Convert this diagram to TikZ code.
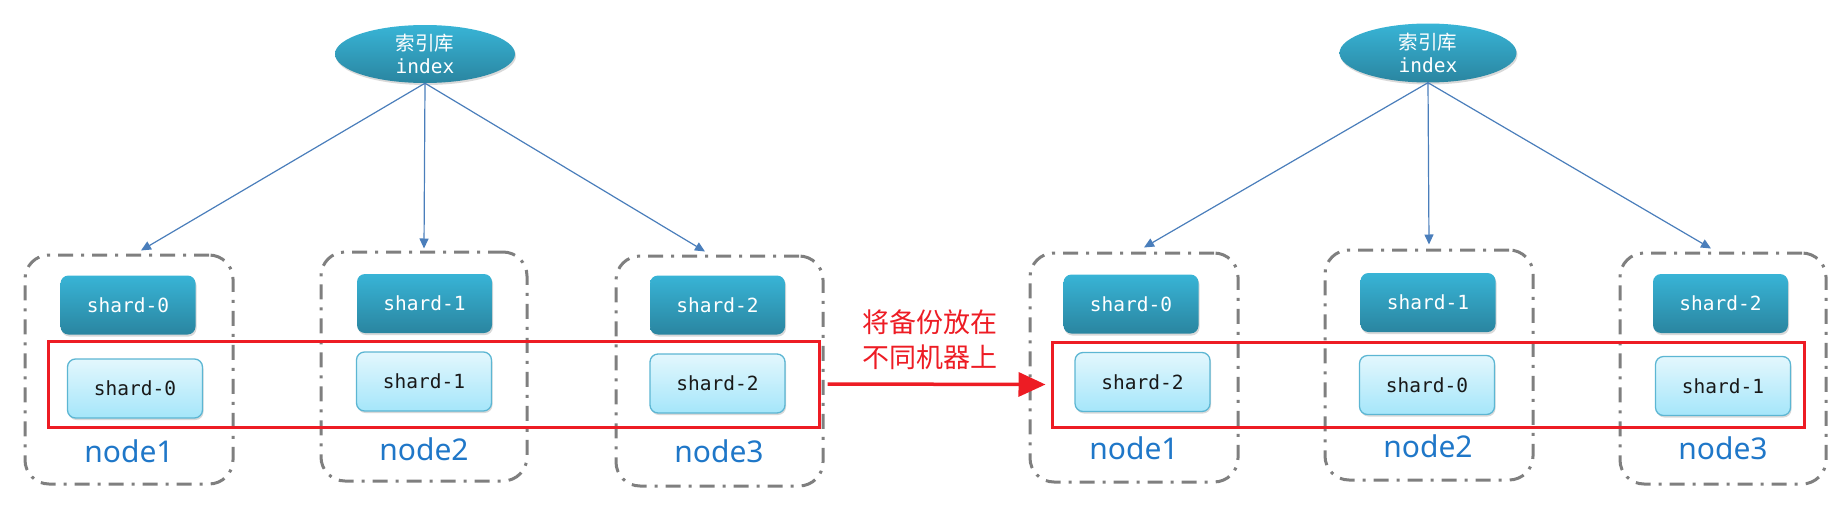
\documentclass[tikz,border=0pt]{standalone}
\usepackage{fontspec}
\newfontfamily\cjkf{Noto Sans CJK SC}
\newfontfamily\monof{DejaVu Sans Mono}
\newfontfamily\labf{Noto Sans}
\usetikzlibrary{shapes.geometric,arrows.meta,shadows}
\definecolor{darktop}{HTML}{38B4D6}
\definecolor{darkbot}{HTML}{2A85A0}
\definecolor{lighttop}{HTML}{E3F7FD}
\definecolor{lightbot}{HTML}{A5E6FA}
\definecolor{lightedge}{HTML}{5CB6D3}
\definecolor{linkblue}{HTML}{4A7EBB}
\definecolor{boxgray}{HTML}{7F7F7F}
\definecolor{redc}{HTML}{ED1C24}
\definecolor{labblue}{HTML}{1F77C8}
\begin{document}
\begin{tikzpicture}[x=1pt,y=-1pt,
  softshadow/.style={general shadow={fill=black,opacity=0.15,shadow xshift=1pt,shadow yshift=-2pt}},
  idx/.style={ellipse, top color=darktop, bottom color=darkbot, inner sep=0pt,
    minimum width=180pt, minimum height=58pt, text=white, align=center,
    font=\fontsize{19.5}{23}\selectfont, softshadow},
  dbox/.style={draw=boxgray, line width=3pt, dash pattern=on 15pt off 8pt on 3pt off 8pt,
    rounded corners=24pt, inner sep=0pt},
  redbox/.style={draw=redc, line width=3pt, inner sep=0pt},
  darkshard/.style={rectangle, rounded corners=8pt, top color=darktop, bottom color=darkbot,
    minimum width=135pt, minimum height=59pt, inner sep=0pt, text=white,
    font=\monof\fontsize{19.5}{23}\selectfont, softshadow},
  lightshard/.style={rectangle, rounded corners=8pt, top color=lighttop, bottom color=lightbot,
    draw=lightedge, line width=1.3pt, minimum width=135pt, minimum height=59pt, inner sep=0pt,
    text=black!90, font=\monof\fontsize{19.5}{23}\selectfont, softshadow},
  lab/.style={text=labblue, font=\labf\fontsize{30}{33}\selectfont, inner sep=0pt, anchor=base},
  link/.style={draw=linkblue, line width=1.2pt, -{Triangle[length=10pt,width=9pt]}},
  redarr/.style={draw=redc, line width=3.5pt, -{Triangle[length=27pt,width=24pt]}},
  redtxt/.style={text=redc, align=center, font=\cjkf\fontsize{27}{35}\selectfont, inner sep=0pt}
]
\useasboundingbox (0,0) rectangle (1839,509);

% dashed machine boxes
\node[dbox, minimum width=208pt, minimum height=229pt] (n1) at (129,369.5) {};
\node[dbox, minimum width=206pt, minimum height=229pt] (n2) at (424,366.5) {};
\node[dbox, minimum width=207pt, minimum height=230pt] (n3) at (719.5,371) {};
\node[dbox, minimum width=208pt, minimum height=229pt] (m1) at (1134,367.5) {};
\node[dbox, minimum width=208pt, minimum height=230pt] (m2) at (1429,365) {};
\node[dbox, minimum width=206pt, minimum height=231pt] (m3) at (1723,368.5) {};

% red frames
\node[redbox, minimum width=771pt, minimum height=86pt] (rbL) at (433.5,384) {};
\node[redbox, minimum width=752pt, minimum height=85pt] (rbR) at (1428,384.5) {};

% index ellipses
\node[idx] (idxL) at (425,54) {{\cjkf 索引库}\\{\monof index}};
\node[idx, minimum width=177pt, minimum height=59pt] (idxR) at (1428,53) {{\cjkf 索引库}\\{\monof index}};

% primary shards
\node[darkshard] (p0) at (128,305) {shard-0};
\node[darkshard] (p1) at (424.5,303.5) {shard-1};
\node[darkshard] (p2) at (717.5,305) {shard-2};
\node[darkshard] (q0) at (1131,304) {shard-0};
\node[darkshard] (q1) at (1428,302.5) {shard-1};
\node[darkshard] (q2) at (1720.5,303.5) {shard-2};

% replica shards
\node[lightshard] (r0) at (135,388.5) {shard-0};
\node[lightshard] (r1) at (424,381.5) {shard-1};
\node[lightshard] (r2) at (717.5,383.5) {shard-2};
\node[lightshard] (t2) at (1142.5,382) {shard-2};
\node[lightshard] (t0) at (1427,385) {shard-0};
\node[lightshard] (t1) at (1723,386) {shard-1};

% labels
\node[lab] (l1) at (129,462) {node1};
\node[lab] (l2) at (424,460) {node2};
\node[lab] (l3) at (719,462) {node3};
\node[lab] (k1) at (1134,459) {node1};
\node[lab] (k2) at (1428,457) {node2};
\node[lab] (k3) at (1723,459) {node3};

% connectors
\draw[link] (idxL.south) -- ([xshift=12pt,yshift=3pt]n1.north);
\draw[link] (idxL.south) -- ([yshift=2pt]n2.north);
\draw[link] (idxL.south) -- ([xshift=-14.5pt,yshift=3pt]n3.north);
\draw[link] (idxR.south) -- ([xshift=10pt,yshift=4pt]m1.north);
\draw[link] (idxR.south) -- ([yshift=4pt]m2.north);
\draw[link] (idxR.south) -- ([xshift=-12pt,yshift=3pt]m3.north);

% red arrow and caption
\draw[redarr] ([xshift=7pt]rbL.east) -- ([xshift=-5pt]rbR.west);
\node[redtxt] (cap) at (930,339.5) {将备份放在\\不同机器上};
\end{tikzpicture}
\end{document}
